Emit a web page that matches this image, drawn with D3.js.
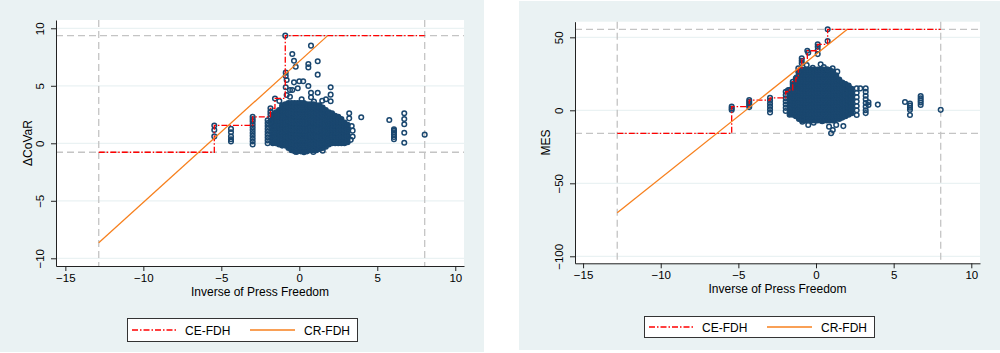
<!DOCTYPE html>
<html lang="en">
<head>
<meta charset="utf-8">
<title>NCA scatter: Press Freedom vs ΔCoVaR and MES</title>
<script src="https://d3js.org/d3.v7.min.js"></script>
<style>
  body { margin: 0; background: #fff; }
  text { font-family: "Liberation Sans", Arial, sans-serif; fill: #000; }
</style>
</head>
<body>
<script type="text/javascript">

//Consts
const w = 1000;
const h = 353;

// ---- data ----
const xTicks = [-15, -10, -5, 0, 5, 10];
const covarTicks = [-10, -5, 0, 5, 10];
const mesTicks = [-100, -50, 0, 50];
const xLabel = "Inverse of Press Freedom";
const legendLabels = ["CE-FDH", "CR-FDH"];

// scope (ceiling envelope limits) of each panel
const covarScopeX = [-12.86, 8.04];
const covarScopeY = [-0.78, 9.36];
const mesScopeX = [-12.8, 8.03];
const mesScopeY = [-15.75, 55.5];

// CR-FDH ceiling lines, start and end points
const covarCR = [[-12.86, -8.64], [1.82, 9.36]];
const mesCR = [[-12.8, -70.1], [2.02, 55.5]];

// ΔCoVaR observations: [x, "y values at that x"]
// dense core of the cloud
const covarBlob = [
  [-1.7, "0 .3 .6 .9 1.2 1.5 1.8 2.1 2.4"],
  [-1.5, "0 .3 .6 .9 1.2 1.5 1.8 2.1 2.4 2.7"],
  [-1.3, "-.1 .2 .5 .8 1.1 1.4 1.7 2 2.3 2.6 2.9"],
  [-1.1, "-.2 .1 .4 .7 1 1.3 1.6 1.9 2.2 2.5 2.8 3.1 3.3"],
  [-0.9, "-.2 .1 .4 .7 1 1.3 1.6 1.9 2.2 2.5 2.8 3.1 3.4"],
  [-0.7, "-.4 -.1 .2 .5 .8 1.1 1.4 1.7 2 2.3 2.6 2.9 3.2 3.5"],
  [-0.5, "-.6 -.3 0 .3 .6 .9 1.2 1.5 1.8 2.1 2.4 2.7 3 3.3 3.5"],
  [-0.3, "-.7 -.4 -.1 .2 .5 .8 1.1 1.4 1.7 2 2.3 2.6 2.9 3.2 3.5"],
  [-0.1, "-.7 -.4 -.1 .2 .5 .8 1.1 1.4 1.7 2 2.3 2.6 2.9 3.2 3.5"],
  [0.1, "-.7 -.4 -.1 .2 .5 .8 1.1 1.4 1.7 2 2.3 2.6 2.9 3.2 3.5"],
  [0.3, "-.7 -.4 -.1 .2 .5 .8 1.1 1.4 1.7 2 2.3 2.6 2.9 3.2 3.5"],
  [0.5, "-.7 -.4 -.1 .2 .5 .8 1.1 1.4 1.7 2 2.3 2.6 2.9 3.2 3.4"],
  [0.7, "-.6 -.3 0 .3 .6 .9 1.2 1.5 1.8 2.1 2.4 2.7 3 3.2 3.4"],
  [0.9, "-.6 -.3 0 .3 .6 .9 1.2 1.5 1.8 2.1 2.4 2.7 3 3.2 3.4"],
  [1.1, "-.6 -.3 0 .3 .6 .9 1.2 1.5 1.8 2.1 2.4 2.7 3 3.3"],
  [1.3, "-.5 -.2 .1 .4 .7 1 1.3 1.6 1.9 2.2 2.5 2.8 3.1 3.3"],
  [1.5, "-.4 -.1 .2 .5 .8 1.1 1.4 1.7 2 2.3 2.6 2.9 3.1"],
  [1.7, "-.3 0 .3 .6 .9 1.2 1.5 1.8 2.1 2.4 2.7 2.9"],
  [1.9, "-.1 .2 .5 .8 1.1 1.4 1.7 2 2.3 2.6 2.7"],
  [2.1, "0 .3 .6 .9 1.2 1.5 1.8 2.1 2.4 2.6"],
  [2.3, "0 .3 .6 .9 1.2 1.5 1.8 2.1 2.4"],
  [2.5, "0 .3 .6 .9 1.2 1.5 1.8 2.1 2.3"],
  [2.7, "0 .3 .6 .9 1.2 1.5 1.8 2.1"],
  [2.9, "0 .3 .6 .9 1.2 1.5 1.8"],
  [3.1, ".1 .4 .7 1 1.3 1.6"]
];
// sparser observations around it
const covarSpread = [
  [-5.45, "0.6 1.15 1.55"],
  [-4.38, "0.15 0.35 0.6 0.95 1.25"],
  [-2.99, "-.1 .15 .4 .65 .9 1.15 1.4 1.65 1.9 2.1 2.3"],
  [-2.03, "0 .25 .5 .75 1 1.25 1.5 1.75 2"],
  [-1.85, "1.9 2.2 2.5 2.75 3.04"],
  [-1.56, "3.9"], [-1.28, "3.68"], [-0.9, "9.36"],
  [-0.87, "4.87 5.85 6.14"], [-0.81, "4.2 5.5"],
  [-0.6, "4.05 4.63"], [-0.45, "4.63 7.77"], [-0.34, "5.3 7.18"],
  [-0.23, "6.66"], [-0.1, "4.78"], [0, "5.39"], [0.15, "3.83"], [0.25, "5.39"],
  [0.58, "4.98 6.6 6.9"], [0.75, "4 4.4 8.49"], [0.94, "3.62"],
  [1.18, "4.4 5.97 7.13"], [1.47, "3.7"], [1.71, "3.83"], [2.01, "3.65 4.23 4.87"],
  [-0.2, "-0.75"], [0.3, "-0.78"], [0.9, "-0.75"], [1.5, "-0.65"],
  [3.2, "2.17 2.61"], [3.3, "0.3"], [3.36, "1.5"], [3.42, "0.58 1.1"], [3.97, "2.26"],
  [5.77, "2.03"], [6.07, "0.35 0.55 0.75 0.95 1.1 1.22"],
  [6.73, "0.05 0.92 1.65 2.11 2.61"], [8.04, "0.75"]
];

// MES observations: [x, "y values at that x"]
const mesBlob = [
  [-1.7, "-3 -.6 1.8 4.2 6.6 9 11.4 13.8"],
  [-1.5, "-3 -.6 1.8 4.2 6.6 9 11.4 13.8 16.2 18"],
  [-1.3, "-4 -1.6 .8 3.2 5.6 8 10.4 12.8 15.2 17.6 20 22"],
  [-1.1, "-6 -3.6 -1.2 1.2 3.6 6 8.4 10.8 13.2 15.6 18 20.4 22.8 25.2 26"],
  [-0.9, "-7 -4.6 -2.2 .2 2.6 5 7.4 9.8 12.2 14.6 17 19.4 21.8 24.2 26.6 28"],
  [-0.7, "-7 -4.6 -2.2 .2 2.6 5 7.4 9.8 12.2 14.6 17 19.4 21.8 24.2 26.6 28"],
  [-0.5, "-7 -4.6 -2.2 .2 2.6 5 7.4 9.8 12.2 14.6 17 19.4 21.8 24.2 26.6 28"],
  [-0.3, "-7 -4.6 -2.2 .2 2.6 5 7.4 9.8 12.2 14.6 17 19.4 21.8 24.2 26.6 28"],
  [-0.1, "-7 -4.6 -2.2 .2 2.6 5 7.4 9.8 12.2 14.6 17 19.4 21.8 24.2 26.6 28"],
  [0.1, "-7 -4.6 -2.2 .2 2.6 5 7.4 9.8 12.2 14.6 17 19.4 21.8 24.2 26.6 28"],
  [0.3, "-7 -4.6 -2.2 .2 2.6 5 7.4 9.8 12.2 14.6 17 19.4 21.8 24.2 26.6 28"],
  [0.5, "-7 -4.6 -2.2 .2 2.6 5 7.4 9.8 12.2 14.6 17 19.4 21.8 24.2 26.6 28"],
  [0.7, "-7 -4.6 -2.2 .2 2.6 5 7.4 9.8 12.2 14.6 17 19.4 21.8 24.2 26.6 28"],
  [0.9, "-7 -4.6 -2.2 .2 2.6 5 7.4 9.8 12.2 14.6 17 19.4 21.8 24.2 26.6 27.5"],
  [1.1, "-7 -4.6 -2.2 .2 2.6 5 7.4 9.8 12.2 14.6 17 19.4 21.8 24.2 26.6"],
  [1.3, "-6 -3.6 -1.2 1.2 3.6 6 8.4 10.8 13.2 15.6 18 20.4 22.8 24"],
  [1.5, "-6 -3.6 -1.2 1.2 3.6 6 8.4 10.8 13.2 15.6 18 20.4 21"],
  [1.7, "-5 -2.6 -.2 2.2 4.6 7 9.4 11.8 14.2 16.6 19"],
  [1.9, "-4 -1.6 .8 3.2 5.6 8 10.4 12.8 15.2 17.6 18"],
  [2.1, "-3 -.6 1.8 4.2 6.6 9 11.4 13.8 16.2 17"],
  [2.3, "-2 .4 2.8 5.2 7.6 10 12.4 14.8"]
];
const mesSpread = [
  [-5.43, "0.2 1.2 2.5"],
  [-4.3, "2.2 3.4 4.6 5.8 7"],
  [-2.96, "-1.5 .5 2.5 4.5 6.5 8.5"],
  [-1.95, "-.5 1.7 3.9 6.1 8.3 10.5 12.7"],
  [-1.82, "13.4"], [-1.78, "13.9"], [-1.5, "19.6"], [-1.24, "22.6"],
  [-1.14, "26.4 28.8"], [-0.92, "32.2 33.9 35.6"], [-0.6, "31"],
  [-0.56, "40.8"], [-0.5, "39.5"], [-0.21, "29.2"], [0.11, "38.5 41.3 43.5 45.2"],
  [0.3, "31.5"], [0.5, "29.6"], [0.75, "28 47.5 55.5"], [1.07, "28.8"], [1.37, "26.5"],
  [-0.88, "-7.8 -5.5"], [-0.5, "-10"], [-0.15, "-8.5"], [0.4, "-7.5"],
  [0.84, "-11.2"], [0.97, "-15.75"], [1.08, "-13.5"], [1.3, "-10"], [1.76, "-10.8"],
  [2.62, "-3.2 0 3 6 9 12 15"], [2.85, "15"],
  [3.2, "-1.9 0 2.5 5 7.5 10 12.6 15"], [3.38, "3.6 5.5"], [3.98, "3.9"],
  [5.73, "5.7"], [6.05, "-3.2 .3 1.8 3.2 4.6"], [6.74, "3.7 5.3 6.8 8.3 9.8"],
  [8.03, "0.3"]
];

// ---- helpers ----
function toPoints(cols) {
  const pts = [];
  cols.forEach(([x, ys]) => {
    String(ys).split(" ").forEach(y => pts.push({ x: x, y: +y }));
  });
  return pts;
}

// CE-FDH step line: running max of y as x increases, inside the scope
function ceFdh(pts, sx, sy) {
  const sorted = pts.slice().sort((a, b) => a.x - b.x || a.y - b.y);
  let cur = sy[0];
  const out = [[sx[0], cur]];
  sorted.forEach(p => {
    if (p.y > cur) {
      out.push([p.x, cur]);
      out.push([p.x, p.y]);
      cur = p.y;
    }
  });
  out.push([sx[1], cur]);
  return out;
}

//SVG
const svg = d3.select("body")
  .append("svg")
  .attr("width", w)
  .attr("height", h);

const navy = "#1a476f";
const red = "#ff0000";
const orange = "#f7801e";

function drawPanel(p) {
  const g = svg.append("g");

  //panel background
  g.append("rect")
    .attr("x", p.bg[0]).attr("y", p.bg[1])
    .attr("width", p.bg[2]).attr("height", p.bg[3])
    .attr("fill", "#eaf2f3");

  const xScale = d3.scaleLinear().domain(p.xDomain).range([p.left, p.right]);
  const yScale = d3.scaleLinear().domain(p.yDomain).range([p.bottom, p.top]);

  //plot region
  g.append("rect")
    .attr("x", p.left).attr("y", p.top)
    .attr("width", p.right - p.left).attr("height", p.bottom - p.top)
    .attr("fill", "#fff");

  //horizontal gridlines
  g.selectAll(".grid")
    .data(p.yTicks)
    .join("line")
    .attr("x1", p.left).attr("x2", p.right)
    .attr("y1", d => yScale(d)).attr("y2", d => yScale(d))
    .attr("stroke", "#eaf2f3").attr("stroke-width", 1.2);

  //scope dashed lines
  p.scopeX.forEach(v => {
    g.append("line")
      .attr("x1", xScale(v)).attr("x2", xScale(v))
      .attr("y1", p.top).attr("y2", p.bottom)
      .attr("stroke", "#c4c4c4").attr("stroke-width", 1.3)
      .attr("stroke-dasharray", "7,4");
  });
  p.scopeY.forEach(v => {
    g.append("line")
      .attr("x1", p.left).attr("x2", p.right)
      .attr("y1", yScale(v)).attr("y2", yScale(v))
      .attr("stroke", "#c4c4c4").attr("stroke-width", 1.3)
      .attr("stroke-dasharray", "7,4");
  });

  //observations: the dense core overlaps into a solid mass, the rest are hollow circles
  const dots = g.append("g");
  dots.selectAll(".core")
    .data(p.core)
    .join("circle")
    .attr("class", "core")
    .attr("cx", d => xScale(d.x))
    .attr("cy", d => yScale(d.y))
    .attr("r", 2.3)
    .attr("fill", navy)
    .attr("stroke", navy)
    .attr("stroke-width", 1.5);
  dots.selectAll(".obs")
    .data(p.spread)
    .join("circle")
    .attr("class", "obs")
    .attr("cx", d => xScale(d.x))
    .attr("cy", d => yScale(d.y))
    .attr("r", 2.3)
    .attr("fill", "none")
    .attr("stroke", navy)
    .attr("stroke-width", 1.5);

  const line = d3.line()
    .x(d => xScale(d[0]))
    .y(d => yScale(d[1]));

  //CE-FDH
  g.append("path")
    .attr("d", line(ceFdh(p.core.concat(p.spread), p.scopeX, p.scopeY)))
    .attr("fill", "none")
    .attr("stroke", red)
    .attr("stroke-width", 1.3)
    .attr("stroke-dasharray", "6,2,1.5,2");

  //CR-FDH
  g.append("path")
    .attr("d", line(p.cr))
    .attr("fill", "none")
    .attr("stroke", orange)
    .attr("stroke-width", 1.3);

  //axes
  const bottomAxis = d3.axisBottom(xScale)
    .tickValues(xTicks).tickSize(5).tickSizeOuter(0).tickPadding(3);
  const ax = g.append("g")
    .attr("transform", "translate(0," + p.bottom + ")")
    .call(bottomAxis);
  ax.selectAll("text").style("font-size", "11.5px");

  const leftAxis = d3.axisLeft(yScale)
    .tickValues(p.yTicks).tickSize(5).tickSizeOuter(0);
  const ay = g.append("g")
    .attr("transform", "translate(" + p.left + ",0)")
    .call(leftAxis);
  ay.selectAll("text")
    .attr("transform", "rotate(-90)")
    .attr("x", 0).attr("y", -12).attr("dy", 0)
    .attr("text-anchor", "middle")
    .style("font-size", "11.5px");
  [ax, ay].forEach(a => {
    a.select(".domain").attr("stroke", "#222");
    a.selectAll(".tick line").attr("stroke", "#222");
    a.attr("font-family", null);
  });

  //axis titles
  g.append("text")
    .attr("x", (p.left + p.right) / 2)
    .attr("y", p.xTitleY)
    .attr("text-anchor", "middle")
    .style("font-size", "12px")
    .text(xLabel);

  g.append("text")
    .attr("transform", "translate(" + p.yTitleX + "," + (p.top + p.bottom) / 2 + ") rotate(-90)")
    .attr("text-anchor", "middle")
    .style("font-size", "12px")
    .text(p.yLabel);

  //legend
  const lg = g.append("g").attr("transform", "translate(" + p.legend[0] + "," + p.legend[1] + ")");
  lg.append("rect")
    .attr("x", 0.5).attr("y", 0.5)
    .attr("width", 230).attr("height", p.legend[2])
    .attr("fill", "#fff").attr("stroke", "#333").attr("stroke-width", 1);
  const my = Math.round(p.legend[2] / 2);
  lg.append("line")
    .attr("x1", 5).attr("x2", 50).attr("y1", my).attr("y2", my)
    .attr("stroke", red).attr("stroke-width", 1.3).attr("stroke-dasharray", "6,2,1.5,2");
  lg.append("text").attr("x", 58).attr("y", my + 4.5).style("font-size", "12px").text(legendLabels[0]);
  lg.append("line")
    .attr("x1", 123).attr("x2", 168).attr("y1", my).attr("y2", my)
    .attr("stroke", orange).attr("stroke-width", 1.3);
  lg.append("text").attr("x", 177).attr("y", my + 4.5).style("font-size", "12px").text(legendLabels[1]);
}

// left panel: ΔCoVaR
drawPanel({
  bg: [0, 0, 484, 352],
  left: 56, right: 464, top: 20, bottom: 266,
  xDomain: [-15.6, 10.56], yDomain: [-10.67, 10.72],
  yTicks: covarTicks,
  core: toPoints(covarBlob), spread: toPoints(covarSpread),
  scopeX: covarScopeX, scopeY: covarScopeY,
  cr: covarCR,
  yLabel: "ΔCoVaR", yTitleX: 32, xTitleY: 295.5,
  legend: [127, 318, 23]
});

// right panel: MES
drawPanel({
  bg: [519, 1, 481, 349],
  left: 575, right: 980, top: 21.7, bottom: 263.3,
  xDomain: [-15.52, 10.56], yDomain: [-104.8, 60.7],
  yTicks: mesTicks,
  core: toPoints(mesBlob), spread: toPoints(mesSpread),
  scopeX: mesScopeX, scopeY: mesScopeY,
  cr: mesCR,
  yLabel: "MES", yTitleX: 550, xTitleY: 293,
  legend: [644, 316, 21]
});

</script>
</body>
</html>
